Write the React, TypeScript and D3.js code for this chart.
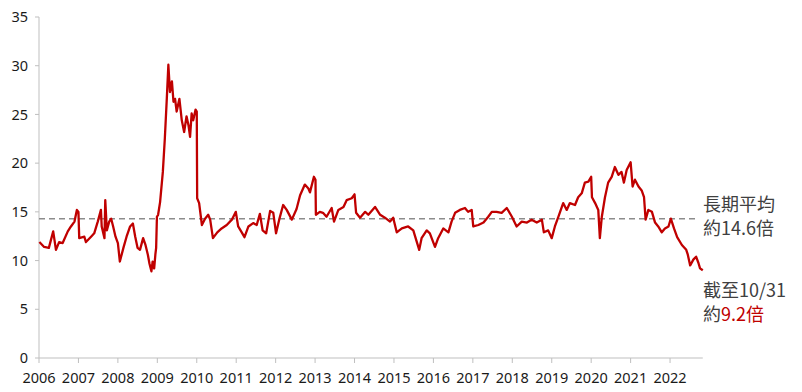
import React from 'react'
import * as d3 from 'd3'

// forward P/E, decimal year -> multiple
const dates = [
  2006.01, 2006.13, 2006.25, 2006.36, 2006.43, 2006.51, 2006.60, 2006.73, 2006.81, 2006.90,
  2006.96, 2007.00, 2007.02, 2007.15, 2007.19, 2007.32, 2007.40, 2007.49, 2007.57, 2007.59,
  2007.66, 2007.68, 2007.72, 2007.78, 2007.83, 2007.88, 2007.94, 2008.00, 2008.05, 2008.14,
  2008.22, 2008.31, 2008.38, 2008.44, 2008.50, 2008.56, 2008.64, 2008.70, 2008.76, 2008.80,
  2008.85, 2008.88, 2008.92, 2008.95, 2008.97, 2008.99, 2009.02, 2009.07, 2009.14, 2009.19,
  2009.24, 2009.28, 2009.32, 2009.37, 2009.41, 2009.45, 2009.49, 2009.56, 2009.62, 2009.68,
  2009.74, 2009.79, 2009.83, 2009.87, 2009.91, 2009.97, 2010.00, 2010.01, 2010.06, 2010.13,
  2010.21, 2010.29, 2010.34, 2010.41, 2010.52, 2010.63, 2010.76, 2010.89, 2010.99, 2011.05,
  2011.14, 2011.21, 2011.31, 2011.43, 2011.52, 2011.60, 2011.67, 2011.76, 2011.86, 2011.94,
  2012.01, 2012.09, 2012.19, 2012.28, 2012.41, 2012.53, 2012.62, 2012.74, 2012.83, 2012.87,
  2012.97, 2013.01, 2013.02, 2013.12, 2013.20, 2013.29, 2013.42, 2013.48, 2013.59, 2013.72,
  2013.80, 2013.93, 2014.00, 2014.04, 2014.14, 2014.27, 2014.35, 2014.52, 2014.65, 2014.77,
  2014.90, 2014.98, 2015.07, 2015.20, 2015.36, 2015.49, 2015.64, 2015.70, 2015.83, 2015.91,
  2016.04, 2016.12, 2016.25, 2016.38, 2016.46, 2016.55, 2016.67, 2016.80, 2016.88, 2016.97,
  2017.01, 2017.14, 2017.27, 2017.39, 2017.48, 2017.60, 2017.73, 2017.86, 2017.99, 2018.11,
  2018.24, 2018.37, 2018.49, 2018.62, 2018.75, 2018.80, 2018.91, 2019.00, 2019.08, 2019.17,
  2019.29, 2019.38, 2019.46, 2019.59, 2019.67, 2019.76, 2019.84, 2019.93, 2020.00, 2020.02,
  2020.10, 2020.18, 2020.22, 2020.27, 2020.35, 2020.43, 2020.52, 2020.60, 2020.69, 2020.77,
  2020.83, 2020.90, 2021.00, 2021.05, 2021.11, 2021.20, 2021.28, 2021.34, 2021.38, 2021.45,
  2021.54, 2021.62, 2021.70, 2021.79, 2021.87, 2021.96, 2022.02, 2022.10, 2022.18, 2022.30,
  2022.41, 2022.45, 2022.51, 2022.59, 2022.66, 2022.72, 2022.76, 2022.83,
]

const values = [
  11.9, 11.4, 11.3, 13.0, 11.1, 11.9, 11.8, 13.0, 13.5, 14.0,
  15.2, 15.0, 12.3, 12.45, 11.9, 12.45, 12.8, 14.0, 15.2, 13.5,
  12.3, 16.2, 13.1, 14.0, 14.3, 13.5, 12.45, 11.8, 9.9, 11.3,
  12.45, 13.5, 13.8, 12.45, 11.3, 11.1, 12.3, 11.6, 10.6, 9.7,
  8.9, 9.9, 9.2, 10.6, 11.3, 14.5, 14.7, 16.0, 19.1, 22.5,
  26.6, 30.1, 27.3, 28.4, 26.3, 26.6, 25.3, 26.6, 24.4, 23.2,
  24.8, 23.9, 22.7, 25.1, 24.4, 25.5, 25.3, 16.4, 15.9, 13.65,
  14.3, 14.7, 14.2, 12.3, 12.9, 13.3, 13.65, 14.2, 15.0, 13.5,
  12.9, 12.4, 13.5, 13.85, 13.65, 14.8, 13.1, 12.8, 15.1, 14.9,
  12.8, 14.2, 15.7, 15.2, 14.2, 15.3, 16.7, 17.8, 17.4, 17.0,
  18.6, 18.3, 14.7, 15.0, 14.9, 14.5, 15.4, 14.0, 15.2, 15.5,
  16.2, 16.4, 16.8, 14.9, 14.4, 15.0, 14.7, 15.5, 14.7, 14.4,
  14.0, 14.4, 12.9, 13.3, 13.5, 13.1, 11.1, 12.3, 13.1, 12.8,
  11.4, 12.3, 13.3, 12.9, 14.0, 14.9, 15.2, 15.4, 15.0, 15.2,
  13.5, 13.65, 13.9, 14.5, 15.0, 15.0, 14.9, 15.4, 14.5, 13.5,
  14.0, 13.9, 14.2, 13.9, 14.2, 12.9, 13.1, 12.3, 13.5, 14.5,
  15.9, 15.2, 15.9, 15.7, 16.5, 16.9, 18.0, 18.1, 18.6, 16.5,
  15.9, 15.2, 12.3, 14.5, 16.5, 18.0, 18.6, 19.6, 18.8, 19.1,
  18.0, 19.3, 20.1, 17.6, 18.3, 17.6, 17.2, 16.5, 14.2, 15.2,
  15.0, 13.9, 13.5, 12.9, 13.3, 13.5, 14.3, 13.3, 12.4, 11.6,
  11.1, 10.6, 9.5, 10.1, 10.4, 9.75, 9.2, 9.0,
]

const yTicks = [0, 5, 10, 15, 20, 25, 30, 35]
const years = d3.range(2006, 2023)
const avgLevel = 14.3
const avgLabel = ['長期平均', '約14.6倍']
const lastLabel = '截至10/31'
const lastPrefix = '約'
const lastValue = '9.2倍'

const W = 802
const H = 392
const red = '#c00000'
const axisColor = '#bfbfbf'
const textColor = '#404040'

export default function App() {
  const x = d3.scaleLinear().domain([2006, 2023]).range([39, 709.5])
  const y = d3.scaleLinear().domain([0, 35]).range([358, 17])
  const endYear = dates[dates.length - 1]

  const points = dates.map((d, i) => [d, values[i]] as [number, number])
  const line = d3.line<[number, number]>()
    .x(d => x(d[0]))
    .y(d => y(d[1]))

  const tickFont = '"Noto Sans", "DejaVu Sans", sans-serif'
  const cjkFont = '"Noto Sans CJK TC", "Noto Sans", sans-serif'

  return (
    <svg width={W} height={H} style={{ position: 'absolute', left: 0, top: 0, background: '#fff' }}>
      {/* y axis */}
      <line x1={x(2006)} x2={x(2006)} y1={y(35)} y2={y(0)} stroke={axisColor} strokeWidth={1} />
      {yTicks.map(t => (
        <g key={t}>
          <line x1={x(2006) - 4} x2={x(2006)} y1={y(t)} y2={y(t)} stroke={axisColor} />
          <text x={28} y={y(t)} dy="0.35em" textAnchor="end" fontSize={14.5}
            fontFamily={tickFont} fill="#1a1a1a">{t}</text>
        </g>
      ))}

      {/* x axis */}
      <line x1={x(2006)} x2={x(endYear)} y1={y(0)} y2={y(0)} stroke={axisColor} strokeWidth={1} />
      {years.map(yr => (
        <g key={yr}>
          <line x1={x(yr)} x2={x(yr)} y1={y(0)} y2={y(0) + 5} stroke={axisColor} />
          <text x={x(yr)} y={383} textAnchor="middle" fontSize={14.5}
            fontFamily={tickFont} fill="#1a1a1a">{yr}</text>
        </g>
      ))}

      {/* long-term average */}
      <line x1={x(2006)} x2={x(endYear) - 4} y1={y(avgLevel)} y2={y(avgLevel)}
        stroke="#8c8c8c" strokeWidth={1.6} strokeDasharray="6,4" />

      <path d={line(points) || ''} fill="none" stroke={red} strokeWidth={2.3}
        strokeLinejoin="round" />

      {/* annotations */}
      <text x={703} y={211} fontSize={18} fontFamily={cjkFont} fill={textColor}>{avgLabel[0]}</text>
      <text x={703} y={235} fontSize={18} fontFamily={cjkFont} fill={textColor}>{avgLabel[1]}</text>
      <text x={703} y={297} fontSize={18} fontFamily={cjkFont} fill={textColor}>{lastLabel}</text>
      <text x={703} y={321} fontSize={18} fontFamily={cjkFont} fill={textColor}>
        {lastPrefix}<tspan fill={red}>{lastValue}</tspan>
      </text>
    </svg>
  )
}
